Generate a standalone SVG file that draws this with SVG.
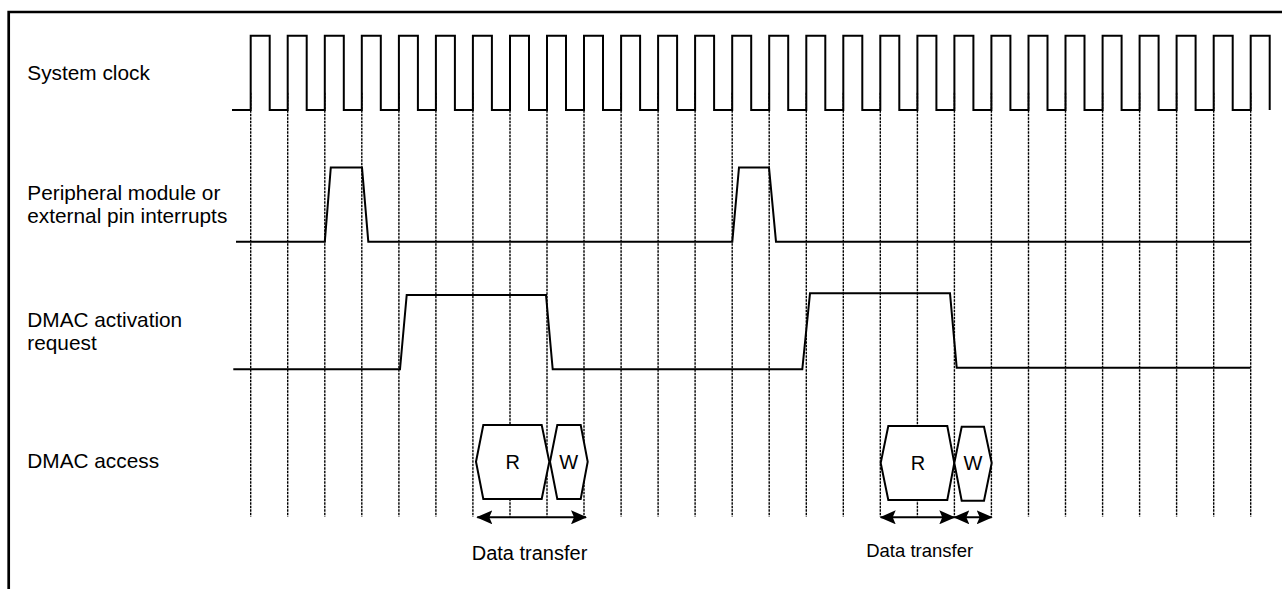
<svg xmlns="http://www.w3.org/2000/svg" width="1282" height="589" viewBox="0 0 1282 589">
<style>
.sig{fill:none;stroke:#000;stroke-width:2;stroke-linejoin:miter}
.grid{fill:none;stroke:#000;stroke-width:1.4;stroke-dasharray:2.5 1}
.frame{fill:none;stroke:#000;stroke-width:2.7}
.hex{fill:#fff;stroke:#000;stroke-width:2}
.lbl{font-family:"Liberation Sans",Arial,sans-serif;font-size:20.8px;fill:#000}
.box{font-family:"Liberation Sans",Arial,sans-serif;font-size:20px;fill:#000;text-anchor:middle}
.arr{fill:none;stroke:#000;stroke-width:2;marker-start:url(#ah);marker-end:url(#ah)}
</style>
<defs>
<marker id="ah" viewBox="0 0 16 14" refX="15" refY="7" markerWidth="16" markerHeight="14" markerUnits="userSpaceOnUse" orient="auto-start-reverse">
<path d="M0,0 L16,7 L0,14 L3,7 Z" fill="#000"/>
</marker>
</defs>
<rect width="1282" height="589" fill="#fff"/>
<path class="frame" d="M8.7,589 V12 H1282"/>
<g id="labels">
<text class="lbl" x="27.3" y="80">System clock</text>
<text class="lbl" x="27.3" y="200">Peripheral module or</text>
<text class="lbl" x="27.3" y="222.7">external pin interrupts</text>
<text class="lbl" x="27.3" y="327.3">DMAC activation</text>
<text class="lbl" x="27.3" y="350">request</text>
<text class="lbl" x="27.3" y="468.3">DMAC access</text>
</g>
<g id="grid">
<path class="grid" d="M250.7,92.7V516.7 M287.7,92.7V516.7 M324.8,92.7V516.7 M361.8,92.7V516.7 M398.9,92.7V516.7 M435.9,92.7V516.7 M472.9,92.7V516.7 M510,92.7V516.7 M547,92.7V516.7 M584,92.7V516.7 M621.1,92.7V516.7 M658.1,92.7V516.7 M695.1,92.7V516.7 M732.2,92.7V516.7 M769.2,92.7V516.7 M806.3,92.7V516.7 M843.3,92.7V516.7 M880.3,92.7V516.7 M917.4,92.7V516.7 M954.4,92.7V516.7 M991.4,92.7V516.7 M1028.5,92.7V516.7 M1065.5,92.7V516.7 M1102.6,92.7V516.7 M1139.6,92.7V516.7 M1176.6,92.7V516.7 M1213.7,92.7V516.7 M1250.7,92.7V516.7"/>
</g>
<g id="clock">
<path class="sig" d="M232,110 H250.7V35.7H269.7V110 H287.7V35.7H306.7V110 H324.8V35.7H343.8V110 H361.8V35.7H380.8V110 H398.9V35.7H417.9V110 H435.9V35.7H454.9V110 H472.9V35.7H491.9V110 H510V35.7H529V110 H547V35.7H566V110 H584V35.7H603V110 H621.1V35.7H640.1V110 H658.1V35.7H677.1V110 H695.1V35.7H714.1V110 H732.2V35.7H751.2V110 H769.2V35.7H788.2V110 H806.3V35.7H825.3V110 H843.3V35.7H862.3V110 H880.3V35.7H899.3V110 H917.4V35.7H936.4V110 H954.4V35.7H973.4V110 H991.4V35.7H1010.4V110 H1028.5V35.7H1047.5V110 H1065.5V35.7H1084.5V110 H1102.6V35.7H1121.6V110 H1139.6V35.7H1158.6V110 H1176.6V35.7H1195.6V110 H1213.7V35.7H1232.7V110 H1250.7V35.7H1269.7V110"/>
</g>
<g id="interrupt">
<path class="sig" d="M236,241.7 H324.8 L330.8,167.5 H362 L368.3,241.7 H732.3 L739,167.5 H769 L776,241.7 H1250.7"/>
</g>
<g id="dmac-request">
<path class="sig" d="M233.3,369.3 H400 L406.7,295 H546 L552.7,369.3 H802.3 L810,293.3 H950 L956.7,367.7 H1250.7"/>
</g>
<g id="dmac-access-1">
<polygon class="hex" points="476,461.7 483.3,425 541.7,425 549.3,461.7 541.7,499 483.3,499"/>
<text class="box" x="512.7" y="469">R</text>
<polygon class="hex" points="550,461.7 557.3,425 580.7,425 587.7,461.7 580.7,499 557.3,499"/>
<text class="box" x="568.8" y="469">W</text>
</g>
<g id="dmac-access-2">
<polygon class="hex" points="880.7,463 888.3,426 947.3,426 954.3,463 947.3,500 888.3,500"/>
<text class="box" x="918" y="470">R</text>
<polygon class="hex" points="954.3,463 961.7,426.7 984,426.7 991.7,463 984,500.7 961.7,500.7"/>
<text class="box" x="973" y="470">W</text>
</g>
<g id="connectors">
<line class="arr" x1="477.3" y1="517.3" x2="586" y2="517.3"/>
<line class="arr" x1="880.7" y1="517.3" x2="954.3" y2="517.3"/>
<line class="arr" x1="954.3" y1="517.3" x2="991.7" y2="517.3"/>
</g>
<g id="transfer-labels">
<text class="box" x="529.5" y="560">Data transfer</text>
<text class="box" x="919.7" y="557.3" style="font-size:18.5px">Data transfer</text>
</g>
</svg>
